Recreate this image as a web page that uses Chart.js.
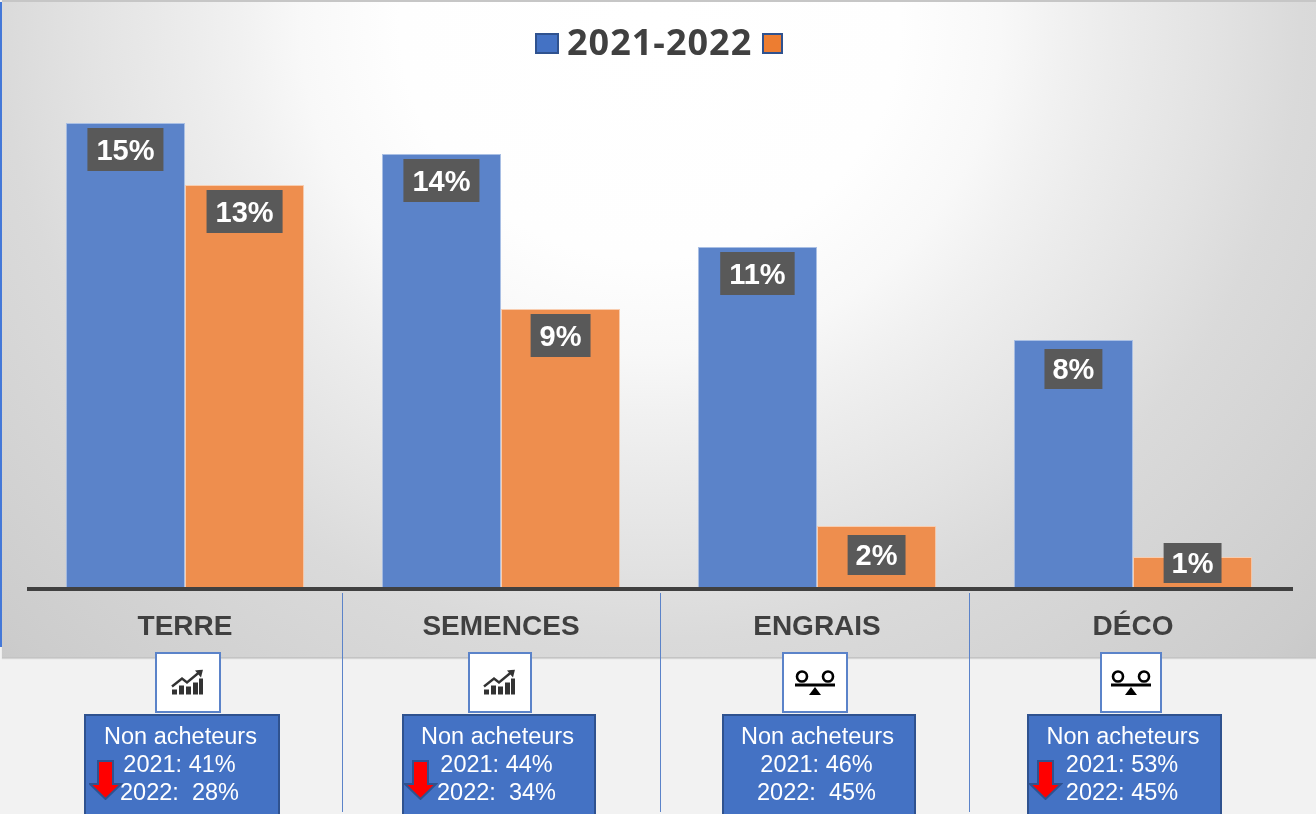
<!DOCTYPE html>
<html lang="fr">
<head>
<meta charset="utf-8">
<title>2021-2022</title>
<script src="https://cdn.jsdelivr.net/npm/chart.js@4/dist/chart.umd.min.js"></script>
<style>
  html, body { margin: 0; padding: 0; background: #f2f2f2; overflow: hidden; }
  #page { position: relative; width: 1316px; height: 814px; overflow: hidden; font-family: "Liberation Sans", Arial, sans-serif; }
  #panel {
    position: absolute; left: 2px; top: 0; width: 1314px; height: 658px; box-sizing: border-box;
    border-top: 2px solid #c6c6c6; border-bottom: 1px solid #c4c4c4; box-shadow: 0 1px 1px rgba(0,0,0,.12);
    background: radial-gradient(ellipse 1000px 950px at 648px 20px, #ffffff 0%, #fefefe 25%, #f8f8f8 35%, #f1f1f1 41%, #ececec 46%, #e2e2e2 57%, #dadada 65%, #cccccc 91%, #c4c4c4 100%);
  }
  #edge { position: absolute; left: 0; top: 2px; width: 2px; height: 645px; background: #4478d8; }
  #chartWrap { position: absolute; left: 0; top: 0; width: 1316px; height: 660px; }
  .legend { position: absolute; left: 535px; top: 20px; height: 44px; }
  .swatch { position: absolute; box-sizing: border-box; border: 2px solid #2f528f; }
  .legendText { position: absolute; left: 32px; top: 0; font: bold 36px "Open Sans", sans-serif; letter-spacing: 1px; line-height: 44px; color: #404040; white-space: nowrap; }
  .sep { position: absolute; top: 593px; width: 1px; height: 219px; background: #5b83c9; }
  .iconBox { position: absolute; top: 652px; height: 61px; box-sizing: border-box; background: #fff; border: 2px solid #5b83c9; }
  .iconBox svg { position: absolute; left: 50%; top: 50%; transform: translate(-50%, -50%); }
  .infoBox { position: absolute; top: 714px; height: 104px; box-sizing: border-box; background: #4472c4; border: 2px solid #2f528f; color: #fff; font-size: 23.5px; }
  .infoBox div { position: absolute; left: -3px; right: 0; text-align: center; line-height: 28px; white-space: pre; }
  .infoBox .year { left: -5px; }
  .arrow { position: absolute; top: 760px; }
</style>
</head>
<body>
<div id="page">
  <div id="panel"></div>
  <div id="edge"></div>
  <div id="chartWrap"><canvas id="myChart"></canvas></div>
  <div class="legend">
    <div class="swatch" style="left:0;top:13px;width:24px;height:21px;background:#4472c4"></div>
    <div class="legendText">2021-2022</div>
    <div class="swatch" style="left:227px;top:13px;width:21px;height:21px;background:#ed7d31"></div>
  </div>
  <div id="extras"></div>
</div>
<script>
const categories = ['TERRE', 'SEMENCES', 'ENGRAIS', 'DÉCO']
const values2021 = [15, 14, 11, 8]
const values2022 = [13, 9, 2, 1]
const nonBuyers2021 = [41, 44, 46, 53]
const nonBuyers2022 = [28, 34, 45, 45]
const trend = ['up', 'up', 'flat', 'flat']
const nonBuyersDown = [true, true, false, true]

// baseline runs a bit past the last category, so it is drawn here and not by the scale
const baseline = {
  id: 'baseline',
  afterDatasetsDraw(chart) {
    const ctx = chart.ctx
    const y = chart.scales.y.getPixelForValue(0) + 1
    ctx.save()
    ctx.strokeStyle = '#404040'
    ctx.lineWidth = 4
    ctx.beginPath()
    ctx.moveTo(chart.chartArea.left, y)
    ctx.lineTo(chart.chartArea.right + 2, y)
    ctx.stroke()
    ctx.restore()
  }
}

// dark box with the percentage, sits just under the top of each bar
const valueBoxes = {
  id: 'valueBoxes',
  afterDatasetsDraw(chart) {
    const ctx = chart.ctx
    const base = chart.scales.y.getPixelForValue(0)
    ctx.save()
    ctx.font = 'bold 29px "Liberation Sans"'
    ctx.textAlign = 'center'
    ctx.textBaseline = 'middle'
    chart.data.datasets.forEach((ds, i) => {
      chart.getDatasetMeta(i).data.forEach((bar, j) => {
        const small = ds.data[j] < 9
        const text = ds.data[j] + '%'
        const w = ctx.measureText(text).width + (small ? 16 : 18)
        const h = small ? 40 : 43
        const y = Math.min(bar.y + (small ? 9 : 5), base - h - 5)
        ctx.fillStyle = '#595959'
        ctx.fillRect(bar.x - w / 2, y, w, h)
        ctx.fillStyle = '#fff'
        ctx.fillText(text, bar.x, y + h / 2 + 2)
      })
    })
    ctx.restore()
  }
}

new Chart(document.getElementById('myChart'), {
  type: 'bar',
  plugins: [baseline, valueBoxes],
  data: {
    labels: categories,
    datasets: [
      { label: '2021', data: values2021, backgroundColor: '#5b83c9', borderColor: '#a9bfe4', borderWidth: 1 },
      { label: '2022', data: values2022, backgroundColor: '#ee8e4e', borderColor: '#f8cdb0', borderWidth: 1 }
    ]
  },
  options: {
    responsive: true,
    maintainAspectRatio: false,
    animation: false,
    layout: { padding: { left: 27, right: 25, top: 30, bottom: 0 } },
    datasets: { bar: { categoryPercentage: 0.754, barPercentage: 1 } },
    plugins: { legend: { display: false }, tooltip: { enabled: false } },
    scales: {
      y: { display: false, min: 0, max: 18 },
      x: {
        afterFit(scale) { scale.height = 72 },
        border: { display: false },
        grid: { display: false, drawTicks: false },
        ticks: { color: '#404040', padding: 22, maxRotation: 0, font: { family: '"Liberation Sans"', size: 28, weight: 'bold' } }
      }
    }
  }
})

const chartIcon = `<svg width="34" height="27" viewBox="0 0 34 27">
  <g fill="#333"><rect x="1" y="20" width="5" height="5"/><rect x="8" y="16" width="5" height="9"/><rect x="15" y="17" width="5" height="8"/><rect x="22" y="13" width="5" height="12"/><rect x="28" y="9" width="4" height="16"/></g>
  <path d="M1 17 L11 9 L16 13 L28 3" fill="none" stroke="#333" stroke-width="2.4"/><path d="M24 1 L32 0 L30 8 Z" fill="#333"/></svg>`
const balanceIcon = `<svg width="42" height="28" viewBox="0 0 42 28">
  <circle cx="8" cy="7.5" r="5" fill="none" stroke="#000" stroke-width="2.6"/><circle cx="34" cy="7.5" r="5" fill="none" stroke="#000" stroke-width="2.6"/>
  <rect x="1" y="14.5" width="40" height="3" fill="#000"/><path d="M21 18 L27 26 L15 26 Z" fill="#000"/></svg>`
const arrowIcon = `<svg width="34" height="40" viewBox="0 0 34 40"><path d="M9 1 H24 V24 H32 L16.5 39 L1 24 H9 Z" fill="#ff0000" stroke="#2f528f" stroke-width="2"/></svg>`

const sepX = [342, 660, 969]
const iconX = [[155, 66], [468, 64], [782, 66], [1100, 62]]
const infoX = [[84, 196], [402, 194], [722, 194], [1027, 195]]
const arrowX = [89, 404, 1029]

const extras = document.getElementById('extras')
let html = ''
sepX.forEach(x => { html += `<div class="sep" style="left:${x}px"></div>` })
let a = 0
categories.forEach((c, i) => {
  html += `<div class="iconBox" style="left:${iconX[i][0]}px;width:${iconX[i][1]}px">${trend[i] === 'up' ? chartIcon : balanceIcon}</div>`
  const gap = i === 3 ? ' ' : '  '
  html += `<div class="infoBox" style="left:${infoX[i][0]}px;width:${infoX[i][1]}px">
    <div style="top:6px">Non acheteurs</div>
    <div class="year" style="top:34px">2021: ${nonBuyers2021[i]}%</div>
    <div class="year" style="top:62px">2022:${gap}${nonBuyers2022[i]}%</div>
  </div>`
  if (nonBuyersDown[i]) html += `<div class="arrow" style="left:${arrowX[a++]}px">${arrowIcon}</div>`
})
extras.innerHTML = html
</script>
</body>
</html>
